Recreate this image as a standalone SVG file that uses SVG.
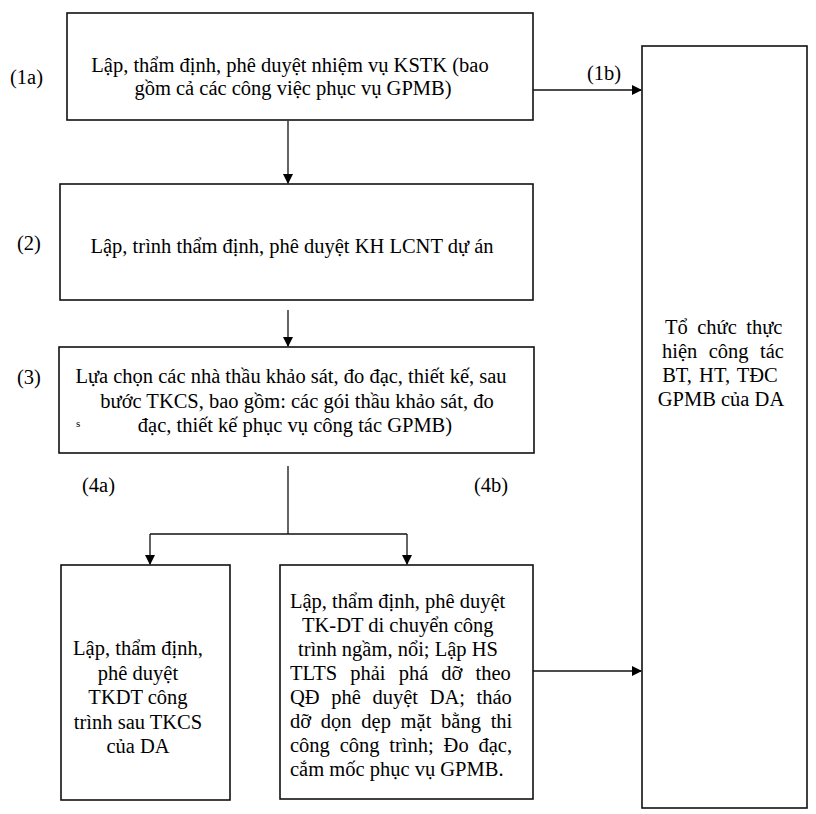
<svg xmlns="http://www.w3.org/2000/svg" width="816" height="814" viewBox="0 0 816 814">
<style>
.box{fill:#fff;stroke:#111;stroke-width:1.6}
.t{font-family:"Liberation Serif","Times New Roman",serif;font-size:20.5px;fill:#000}
.c{text-anchor:middle}
.ln{stroke:#111;stroke-width:1.3;fill:none}
</style>
<defs>
<marker id="ah" markerWidth="10" markerHeight="10" refX="9" refY="5" orient="auto" markerUnits="userSpaceOnUse">
<path d="M0,0 L10,5 L0,10 Z" fill="#000"/>
</marker>
</defs>
<rect width="816" height="814" fill="#fff"/>
<g id="n1a">
<rect class="box" x="67" y="13" width="466" height="107"/>
<text class="t c" x="290" y="72">Lập, thẩm định, phê duyệt nhiệm vụ KSTK (bao</text>
<text class="t c" x="293" y="95">gồm cả các công việc phục vụ GPMB)</text>
</g>
<g id="n2">
<rect class="box" x="60" y="184" width="473" height="116"/>
<text class="t c" x="292" y="253">Lập, trình thẩm định, phê duyệt KH LCNT dự án</text>
</g>
<g id="n3">
<rect class="box" x="59" y="347" width="475" height="106"/>
<text class="t c" x="291" y="383">Lựa chọn các nhà thầu khảo sát, đo đạc, thiết kế, sau</text>
<text class="t c" x="297" y="408">bước TKCS, bao gồm: các gói thầu khảo sát, đo</text>
<text class="t c" x="295" y="432">đạc, thiết kế phục vụ công tác GPMB)</text>
<text class="t" x="76" y="427" style="font-size:11px">s</text>
</g>
<g id="n4a">
<rect class="box" x="61" y="565" width="169" height="235"/>
<text class="t c" x="138" y="655">Lập, thẩm định,</text>
<text class="t c" x="138" y="680">phê duyệt</text>
<text class="t c" x="138" y="704">TKDT công</text>
<text class="t c" x="138" y="729">trình sau TKCS</text>
<text class="t c" x="138" y="753">của DA</text>
</g>
<g id="n4b">
<rect class="box" x="280" y="565" width="253" height="234"/>
<text class="t" x="290" y="608">Lập, thẩm định, phê duyệt</text>
<text class="t" x="302" y="632">TK-DT di chuyển công</text>
<text class="t" x="298" y="656">trình ngầm, nổi; Lập HS</text>
<text class="t" x="290" y="680" style="word-spacing:8px">TLTS phải phá dỡ theo</text>
<text class="t" x="290" y="704" style="word-spacing:6.5px">QĐ phê duyệt DA; tháo</text>
<text class="t" x="290" y="728" style="word-spacing:4.6px">dỡ dọn dẹp mặt bằng thi</text>
<text class="t" x="290" y="752" style="word-spacing:4.7px">công công trình; Đo đạc,</text>
<text class="t" x="290" y="776">cắm mốc phục vụ GPMB.</text>
</g>
<g id="nR">
<rect class="box" x="642" y="46" width="165" height="762"/>
<text class="t" x="665" y="334" style="word-spacing:4.3px">Tổ chức thực</text>
<text class="t" x="662" y="358" style="word-spacing:6.3px">hiện công tác</text>
<text class="t c" x="720" y="382" style="word-spacing:2px">BT, HT, TĐC</text>
<text class="t c" x="721" y="406">GPMB của DA</text>
</g>
<g id="labels">
<text class="t" x="10" y="84">(1a)</text>
<text class="t" x="587" y="80">(1b)</text>
<text class="t" x="17" y="250">(2)</text>
<text class="t" x="17" y="384">(3)</text>
<text class="t" x="82" y="492">(4a)</text>
<text class="t" x="474" y="492">(4b)</text>
</g>
<g id="connectors">
<line class="ln" x1="288" y1="121" x2="288" y2="183" marker-end="url(#ah)"/>
<line class="ln" x1="288" y1="310" x2="288" y2="346" marker-end="url(#ah)"/>
<line class="ln" x1="288" y1="466" x2="288" y2="534"/>
<line class="ln" x1="150" y1="534" x2="407" y2="534"/>
<line class="ln" x1="150" y1="534" x2="150" y2="564" marker-end="url(#ah)"/>
<line class="ln" x1="407" y1="534" x2="407" y2="564" marker-end="url(#ah)"/>
<line class="ln" x1="533" y1="90" x2="641" y2="90" marker-end="url(#ah)"/>
<line class="ln" x1="533" y1="671" x2="641" y2="671" marker-end="url(#ah)"/>
</g>
</svg>
